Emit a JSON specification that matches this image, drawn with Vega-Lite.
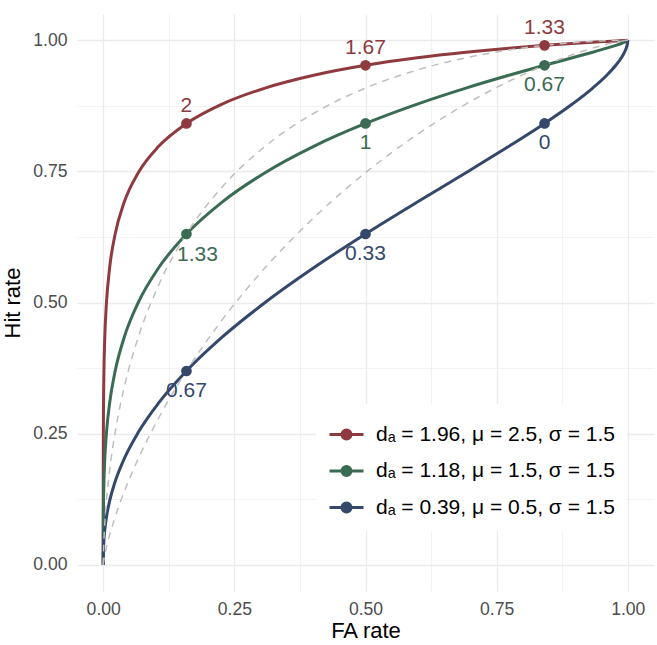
{
  "$schema": "https://vega.github.io/schema/vega-lite/v6.json",
  "width": 577,
  "height": 577,
  "autosize": {"type": "none"},
  "padding": {"left": 77, "top": 14, "right": 3, "bottom": 54},
  "background": "white",
  "config": {
    "view": {"stroke": null},
    "font": "Liberation Sans",
    "axis": {
      "domain": false,
      "ticks": false,
      "gridColor": "#EBEBEB",
      "labelColor": "#4D4D4D",
      "labelFontSize": 17.6,
      "labelFont": "Liberation Sans",
      "titleFont": "Liberation Sans",
      "titleFontSize": 22,
      "titleFontWeight": "normal",
      "titleColor": "#000000",
      "labelFlush": false
    }
  },
  "datasets": {
    "curves": [
      {"k": "R", "fa": 0, "hit": 0},
      {"k": "R", "fa": 0.000000001, "hit": 0.0098},
      {"k": "R", "fa": 0.0000003, "hit": 0.0478},
      {"k": "R", "fa": 0.0000034, "hit": 0.0912},
      {"k": "R", "fa": 0.0000317, "hit": 0.1587},
      {"k": "R", "fa": 0.000233, "hit": 0.2525},
      {"k": "R", "fa": 0.000577, "hit": 0.3085},
      {"k": "R", "fa": 0.00135, "hit": 0.3694},
      {"k": "R", "fa": 0.00298, "hit": 0.4338},
      {"k": "R", "fa": 0.00621, "hit": 0.5},
      {"k": "R", "fa": 0.01222, "hit": 0.5662},
      {"k": "R", "fa": 0.02275, "hit": 0.6306},
      {"k": "R", "fa": 0.04006, "hit": 0.6915},
      {"k": "R", "fa": 0.06681, "hit": 0.7475},
      {"k": "R", "fa": 0.10565, "hit": 0.7977},
      {"k": "R", "fa": 0.15866, "hit": 0.8413},
      {"k": "R", "fa": 0.22663, "hit": 0.8783},
      {"k": "R", "fa": 0.30854, "hit": 0.9088},
      {"k": "R", "fa": 0.40129, "hit": 0.9332},
      {"k": "R", "fa": 0.5, "hit": 0.9522},
      {"k": "R", "fa": 0.59871, "hit": 0.9666},
      {"k": "R", "fa": 0.69146, "hit": 0.9772},
      {"k": "R", "fa": 0.77337, "hit": 0.9849},
      {"k": "R", "fa": 0.84134, "hit": 0.9902},
      {"k": "R", "fa": 0.89435, "hit": 0.9938},
      {"k": "R", "fa": 0.93319, "hit": 0.9962},
      {"k": "R", "fa": 0.95994, "hit": 0.9977},
      {"k": "R", "fa": 0.97725, "hit": 0.99865},
      {"k": "R", "fa": 0.99379, "hit": 0.99957},
      {"k": "R", "fa": 0.99865, "hit": 0.99988},
      {"k": "R", "fa": 0.99997, "hit": 0.99999},
      {"k": "R", "fa": 1, "hit": 1},

      {"k": "G", "fa": 0, "hit": 0},
      {"k": "G", "fa": 0.000000001, "hit": 0.00135},
      {"k": "G", "fa": 0.0000003, "hit": 0.0098},
      {"k": "G", "fa": 0.0000034, "hit": 0.0228},
      {"k": "G", "fa": 0.0000317, "hit": 0.0478},
      {"k": "G", "fa": 0.000233, "hit": 0.0912},
      {"k": "G", "fa": 0.000577, "hit": 0.1217},
      {"k": "G", "fa": 0.00135, "hit": 0.1587},
      {"k": "G", "fa": 0.00298, "hit": 0.2023},
      {"k": "G", "fa": 0.00621, "hit": 0.2525},
      {"k": "G", "fa": 0.01222, "hit": 0.3085},
      {"k": "G", "fa": 0.02275, "hit": 0.3694},
      {"k": "G", "fa": 0.04006, "hit": 0.4338},
      {"k": "G", "fa": 0.06681, "hit": 0.5},
      {"k": "G", "fa": 0.10565, "hit": 0.5662},
      {"k": "G", "fa": 0.15866, "hit": 0.6306},
      {"k": "G", "fa": 0.22663, "hit": 0.6915},
      {"k": "G", "fa": 0.30854, "hit": 0.7475},
      {"k": "G", "fa": 0.40129, "hit": 0.7977},
      {"k": "G", "fa": 0.5, "hit": 0.8413},
      {"k": "G", "fa": 0.59871, "hit": 0.8783},
      {"k": "G", "fa": 0.69146, "hit": 0.9088},
      {"k": "G", "fa": 0.77337, "hit": 0.9332},
      {"k": "G", "fa": 0.84134, "hit": 0.9522},
      {"k": "G", "fa": 0.89435, "hit": 0.9666},
      {"k": "G", "fa": 0.93319, "hit": 0.9772},
      {"k": "G", "fa": 0.95994, "hit": 0.9849},
      {"k": "G", "fa": 0.97725, "hit": 0.9902},
      {"k": "G", "fa": 0.98778, "hit": 0.9938},
      {"k": "G", "fa": 0.99379, "hit": 0.9962},
      {"k": "G", "fa": 0.99702, "hit": 0.9977},
      {"k": "G", "fa": 0.99865, "hit": 0.99865},
      {"k": "G", "fa": 0.99977, "hit": 0.99957},
      {"k": "G", "fa": 0.99997, "hit": 0.99988},
      {"k": "G", "fa": 0.9999997, "hit": 0.99999},
      {"k": "G", "fa": 1, "hit": 1},

      {"k": "B", "fa": 0, "hit": 0},
      {"k": "B", "fa": 0.000000001, "hit": 0.00012},
      {"k": "B", "fa": 0.0000003, "hit": 0.00135},
      {"k": "B", "fa": 0.0000034, "hit": 0.0038},
      {"k": "B", "fa": 0.0000317, "hit": 0.0098},
      {"k": "B", "fa": 0.000233, "hit": 0.0228},
      {"k": "B", "fa": 0.000577, "hit": 0.0334},
      {"k": "B", "fa": 0.00135, "hit": 0.0478},
      {"k": "B", "fa": 0.00298, "hit": 0.0668},
      {"k": "B", "fa": 0.00621, "hit": 0.0912},
      {"k": "B", "fa": 0.01222, "hit": 0.1217},
      {"k": "B", "fa": 0.02275, "hit": 0.1587},
      {"k": "B", "fa": 0.04006, "hit": 0.2023},
      {"k": "B", "fa": 0.06681, "hit": 0.2525},
      {"k": "B", "fa": 0.10565, "hit": 0.3085},
      {"k": "B", "fa": 0.15866, "hit": 0.3694},
      {"k": "B", "fa": 0.22663, "hit": 0.4338},
      {"k": "B", "fa": 0.30854, "hit": 0.5},
      {"k": "B", "fa": 0.40129, "hit": 0.5662},
      {"k": "B", "fa": 0.5, "hit": 0.6306},
      {"k": "B", "fa": 0.59871, "hit": 0.6915},
      {"k": "B", "fa": 0.69146, "hit": 0.7475},
      {"k": "B", "fa": 0.77337, "hit": 0.7977},
      {"k": "B", "fa": 0.84134, "hit": 0.8413},
      {"k": "B", "fa": 0.89435, "hit": 0.8783},
      {"k": "B", "fa": 0.93319, "hit": 0.9088},
      {"k": "B", "fa": 0.95994, "hit": 0.9332},
      {"k": "B", "fa": 0.97725, "hit": 0.9522},
      {"k": "B", "fa": 0.98778, "hit": 0.9666},
      {"k": "B", "fa": 0.99379, "hit": 0.9772},
      {"k": "B", "fa": 0.99702, "hit": 0.9849},
      {"k": "B", "fa": 0.99865, "hit": 0.9902},
      {"k": "B", "fa": 0.99977, "hit": 0.9962},
      {"k": "B", "fa": 0.99997, "hit": 0.99865},
      {"k": "B", "fa": 0.9999966, "hit": 0.99957},
      {"k": "B", "fa": 0.9999997, "hit": 0.99988},
      {"k": "B", "fa": 0.999999999, "hit": 0.99999},
      {"k": "B", "fa": 1, "hit": 1}
    ],
    "isosens": [
      {"d": "0.67", "fa": 0, "hit": 0},
      {"d": "0.67", "fa": 0.0000003, "hit": 0.0000073},
      {"d": "0.67", "fa": 0.0000317, "hit": 0.00043},
      {"d": "0.67", "fa": 0.000233, "hit": 0.0023},
      {"d": "0.67", "fa": 0.00135, "hit": 0.0098},
      {"d": "0.67", "fa": 0.00298, "hit": 0.0186},
      {"d": "0.67", "fa": 0.00621, "hit": 0.0334},
      {"d": "0.67", "fa": 0.01222, "hit": 0.0567},
      {"d": "0.67", "fa": 0.02275, "hit": 0.0912},
      {"d": "0.67", "fa": 0.04006, "hit": 0.1393},
      {"d": "0.67", "fa": 0.06681, "hit": 0.2023},
      {"d": "0.67", "fa": 0.10565, "hit": 0.2798},
      {"d": "0.67", "fa": 0.15866, "hit": 0.3694},
      {"d": "0.67", "fa": 0.22663, "hit": 0.4668},
      {"d": "0.67", "fa": 0.30854, "hit": 0.5662},
      {"d": "0.67", "fa": 0.40129, "hit": 0.6615},
      {"d": "0.67", "fa": 0.5, "hit": 0.7475},
      {"d": "0.67", "fa": 0.59871, "hit": 0.8203},
      {"d": "0.67", "fa": 0.69146, "hit": 0.8783},
      {"d": "0.67", "fa": 0.77337, "hit": 0.9217},
      {"d": "0.67", "fa": 0.84134, "hit": 0.9522},
      {"d": "0.67", "fa": 0.89435, "hit": 0.9724},
      {"d": "0.67", "fa": 0.93319, "hit": 0.9849},
      {"d": "0.67", "fa": 0.95994, "hit": 0.9922},
      {"d": "0.67", "fa": 0.97725, "hit": 0.9962},
      {"d": "0.67", "fa": 0.99379, "hit": 0.99923},
      {"d": "0.67", "fa": 0.99865, "hit": 0.99988},
      {"d": "0.67", "fa": 1, "hit": 1},

      {"d": "1.33", "fa": 0, "hit": 0},
      {"d": "1.33", "fa": 0.0000003, "hit": 0.00012},
      {"d": "1.33", "fa": 0.0000317, "hit": 0.0038},
      {"d": "1.33", "fa": 0.000233, "hit": 0.0151},
      {"d": "1.33", "fa": 0.00135, "hit": 0.0478},
      {"d": "1.33", "fa": 0.00298, "hit": 0.0783},
      {"d": "1.33", "fa": 0.00621, "hit": 0.1217},
      {"d": "1.33", "fa": 0.01222, "hit": 0.1797},
      {"d": "1.33", "fa": 0.02275, "hit": 0.2525},
      {"d": "1.33", "fa": 0.04006, "hit": 0.3385},
      {"d": "1.33", "fa": 0.06681, "hit": 0.4338},
      {"d": "1.33", "fa": 0.10565, "hit": 0.5332},
      {"d": "1.33", "fa": 0.15866, "hit": 0.6306},
      {"d": "1.33", "fa": 0.22663, "hit": 0.7202},
      {"d": "1.33", "fa": 0.30854, "hit": 0.7977},
      {"d": "1.33", "fa": 0.40129, "hit": 0.8607},
      {"d": "1.33", "fa": 0.5, "hit": 0.9088},
      {"d": "1.33", "fa": 0.59871, "hit": 0.9433},
      {"d": "1.33", "fa": 0.69146, "hit": 0.9666},
      {"d": "1.33", "fa": 0.77337, "hit": 0.9814},
      {"d": "1.33", "fa": 0.84134, "hit": 0.9902},
      {"d": "1.33", "fa": 0.89435, "hit": 0.9951},
      {"d": "1.33", "fa": 0.93319, "hit": 0.9977},
      {"d": "1.33", "fa": 0.97725, "hit": 0.99957},
      {"d": "1.33", "fa": 0.99379, "hit": 0.99994},
      {"d": "1.33", "fa": 1, "hit": 1}
    ],
    "criteria": [
      {"k": "R", "fa": 0.15866, "hit": 0.8413, "dp": "2"},
      {"k": "R", "fa": 0.5, "hit": 0.9522, "dp": "1.67"},
      {"k": "R", "fa": 0.84134, "hit": 0.9902, "dp": "1.33"},
      {"k": "G", "fa": 0.15866, "hit": 0.6306, "dp": "1.33"},
      {"k": "G", "fa": 0.5, "hit": 0.8413, "dp": "1"},
      {"k": "G", "fa": 0.84134, "hit": 0.9522, "dp": "0.67"},
      {"k": "B", "fa": 0.15866, "hit": 0.3694, "dp": "0.67"},
      {"k": "B", "fa": 0.5, "hit": 0.6306, "dp": "0.33"},
      {"k": "B", "fa": 0.84134, "hit": 0.8413, "dp": "0"}
    ]
  },
  "layer": [
    {
      "data": {"name": "curves"},
      "mark": {"type": "line", "strokeWidth": 3, "interpolate": "monotone"},
      "encoding": {
        "x": {
          "field": "fa",
          "type": "quantitative",
          "scale": {"domain": [-0.05, 1.05], "nice": false, "zero": false},
          "axis": {
            "title": "FA rate",
            "values": [0, 0.125, 0.25, 0.375, 0.5, 0.625, 0.75, 0.875, 1],
            "labelExpr": "datum.value % 0.25 == 0 ? format(datum.value, '.2f') : ''",
            "gridWidth": {"condition": {"test": "datum.value % 0.25 != 0", "value": 0.6}, "value": 1.3},
            "labelPadding": 9,
            "titlePadding": 3
          }
        },
        "y": {
          "field": "hit",
          "type": "quantitative",
          "scale": {"domain": [-0.05, 1.05], "nice": false, "zero": false},
          "axis": {
            "title": "Hit rate",
            "values": [0, 0.125, 0.25, 0.375, 0.5, 0.625, 0.75, 0.875, 1],
            "labelExpr": "datum.value % 0.25 == 0 ? format(datum.value, '.2f') : ''",
            "gridWidth": {"condition": {"test": "datum.value % 0.25 != 0", "value": 0.6}, "value": 1.3},
            "labelPadding": 10,
            "titlePadding": 8
          }
        },
        "color": {
          "field": "k",
          "type": "nominal",
          "scale": {"domain": ["R", "G", "B"], "range": ["#8F3A3E", "#3A6B53", "#34486C"]}
        }
      }
    },
    {
      "data": {"name": "isosens"},
      "mark": {"type": "line", "strokeWidth": 1.5, "strokeDash": [7, 6], "color": "#BEBEBE", "interpolate": "monotone"},
      "encoding": {
        "x": {"field": "fa", "type": "quantitative"},
        "y": {"field": "hit", "type": "quantitative"},
        "detail": {"field": "d", "type": "nominal"}
      }
    },
    {
      "data": {"name": "criteria"},
      "mark": {"type": "point", "filled": true, "size": 115, "opacity": 1},
      "encoding": {
        "x": {"field": "fa", "type": "quantitative"},
        "y": {"field": "hit", "type": "quantitative"},
        "color": {
          "field": "k",
          "type": "nominal",
          "legend": {
            "orient": "none",
            "legendX": 239,
            "legendY": 390,
            "title": null,
            "symbolType": "M-1,0L1,0M0.265,0A0.265,0.265,0,1,1,-0.265,0A0.265,0.265,0,1,1,0.265,0Z",
            "symbolSize": 1156,
            "symbolStrokeWidth": 3,
            "labelFontSize": 21,
            "labelFont": "Liberation Sans",
            "labelColor": "#000000",
            "labelOffset": 11,
            "labelLimit": 400,
            "rowPadding": 6.5,
            "padding": 12,
            "fillColor": "white",
            "labelExpr": "datum.label == 'R' ? 'dₐ = 1.96, μ = 2.5, σ = 1.5' : datum.label == 'G' ? 'dₐ = 1.18, μ = 1.5, σ = 1.5' : 'dₐ = 0.39, μ = 0.5, σ = 1.5'",
            "encode": {
              "symbols": {
                "update": {
                  "stroke": {"scale": "color", "field": "value"},
                  "fill": {"scale": "color", "field": "value"},
                  "opacity": {"value": 1}
                }
              }
            }
          }
        }
      }
    },
    {
      "data": {"name": "criteria"},
      "transform": [{"filter": "datum.k == 'R'"}],
      "mark": {"type": "text", "fontSize": 21, "dy": -17, "baseline": "middle", "align": "center"},
      "encoding": {
        "x": {"field": "fa", "type": "quantitative"},
        "y": {"field": "hit", "type": "quantitative"},
        "text": {"field": "dp"},
        "color": {"field": "k", "type": "nominal", "legend": null}
      }
    },
    {
      "data": {"name": "criteria"},
      "transform": [{"filter": "datum.k != 'R' && !(datum.k == 'G' && datum.fa < 0.2)"}],
      "mark": {"type": "text", "fontSize": 21, "dy": 20, "baseline": "middle", "align": "center"},
      "encoding": {
        "x": {"field": "fa", "type": "quantitative"},
        "y": {"field": "hit", "type": "quantitative"},
        "text": {"field": "dp"},
        "color": {"field": "k", "type": "nominal", "legend": null}
      }
    },
    {
      "data": {"name": "criteria"},
      "transform": [{"filter": "datum.k == 'G' && datum.fa < 0.2"}],
      "mark": {"type": "text", "fontSize": 21, "dx": 11, "dy": 21, "baseline": "middle", "align": "center"},
      "encoding": {
        "x": {"field": "fa", "type": "quantitative"},
        "y": {"field": "hit", "type": "quantitative"},
        "text": {"field": "dp"},
        "color": {"field": "k", "type": "nominal", "legend": null}
      }
    }
  ]
}
